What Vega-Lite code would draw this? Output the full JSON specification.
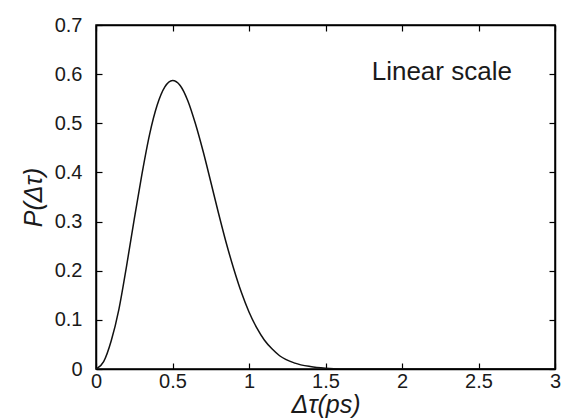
{
  "$schema": "https://vega.github.io/schema/vega-lite/v6.json",
  "width": 459,
  "height": 344,
  "autosize": "none",
  "padding": {"left": 96, "top": 25, "right": 6, "bottom": 50},
  "background": "white",
  "config": {
    "font": "Liberation Sans",
    "view": {"stroke": "black", "strokeWidth": 1.5},
    "axis": {"grid": false, "domainColor": "black", "domainWidth": 1.5, "tickColor": "black", "tickWidth": 1.2, "labelFont": "Liberation Sans", "labelFontSize": 20, "labelColor": "#1a1a1a", "titleFont": "Liberation Sans", "titleFontSize": 25, "titleFontWeight": "normal", "titleColor": "#1a1a1a"}
  },
  "data": {"values": [
    {"t": 0, "p": 0},
    {"t": 0.05, "p": 0.015},
    {"t": 0.1, "p": 0.058},
    {"t": 0.15, "p": 0.122},
    {"t": 0.2, "p": 0.21},
    {"t": 0.25, "p": 0.305},
    {"t": 0.3, "p": 0.396},
    {"t": 0.35, "p": 0.477},
    {"t": 0.4, "p": 0.537},
    {"t": 0.45, "p": 0.574},
    {"t": 0.5, "p": 0.587},
    {"t": 0.55, "p": 0.577},
    {"t": 0.6, "p": 0.546},
    {"t": 0.65, "p": 0.499},
    {"t": 0.7, "p": 0.443},
    {"t": 0.75, "p": 0.381},
    {"t": 0.8, "p": 0.318},
    {"t": 0.85, "p": 0.258},
    {"t": 0.9, "p": 0.204},
    {"t": 0.95, "p": 0.156},
    {"t": 1.0, "p": 0.116},
    {"t": 1.05, "p": 0.084},
    {"t": 1.1, "p": 0.059},
    {"t": 1.15, "p": 0.041},
    {"t": 1.2, "p": 0.027},
    {"t": 1.3, "p": 0.012},
    {"t": 1.4, "p": 0.005},
    {"t": 1.5, "p": 0.0015},
    {"t": 1.6, "p": 0},
    {"t": 2.0, "p": 0},
    {"t": 2.5, "p": 0},
    {"t": 3.0, "p": 0}
  ]},
  "layer": [
    {
      "mark": {"type": "line", "color": "#111", "strokeWidth": 1.5, "interpolate": "monotone", "clip": true},
      "encoding": {
        "x": {"field": "t", "type": "quantitative", "scale": {"domain": [0, 3], "nice": false, "zero": false},
          "axis": {"orient": "bottom", "title": "Δτ(ps)", "titleFontStyle": "italic", "values": [0, 0.5, 1, 1.5, 2, 2.5, 3], "format": "~g", "tickSize": -6, "labelPadding": 8, "titlePadding": 1, "labelFlush": false, "labelOverlap": false}},
        "y": {"field": "p", "type": "quantitative", "scale": {"domain": [0, 0.7], "nice": false},
          "axis": {"orient": "left", "title": "P(Δτ)", "titleFontStyle": "italic", "values": [0, 0.1, 0.2, 0.3, 0.4, 0.5, 0.6, 0.7], "format": "~g", "tickSize": -6, "labelPadding": 20, "titlePadding": 8, "labelFlush": false, "labelOverlap": false}}
      }
    },
    {
      "mark": {"type": "line", "opacity": 0},
      "encoding": {
        "x": {"field": "t", "type": "quantitative", "scale": {"domain": [0, 3], "nice": false, "zero": false},
          "axis": {"orient": "top", "title": null, "labels": false, "values": [0, 0.5, 1, 1.5, 2, 2.5, 3], "tickSize": -6}},
        "y": {"field": "p", "type": "quantitative", "scale": {"domain": [0, 0.7], "nice": false},
          "axis": {"orient": "right", "title": null, "labels": false, "values": [0, 0.1, 0.2, 0.3, 0.4, 0.5, 0.6, 0.7], "tickSize": -6}}
      }
    },
    {
      "data": {"values": [{"t": 2.26, "p": 0.605, "label": "Linear scale"}]},
      "mark": {"type": "text", "font": "Liberation Sans", "fontSize": 26, "color": "#1a1a1a", "align": "center", "baseline": "middle"},
      "encoding": {
        "x": {"field": "t", "type": "quantitative", "axis": null},
        "y": {"field": "p", "type": "quantitative", "axis": null},
        "text": {"field": "label"}
      }
    }
  ],
  "resolve": {"axis": {"x": "independent", "y": "independent"}}
}
